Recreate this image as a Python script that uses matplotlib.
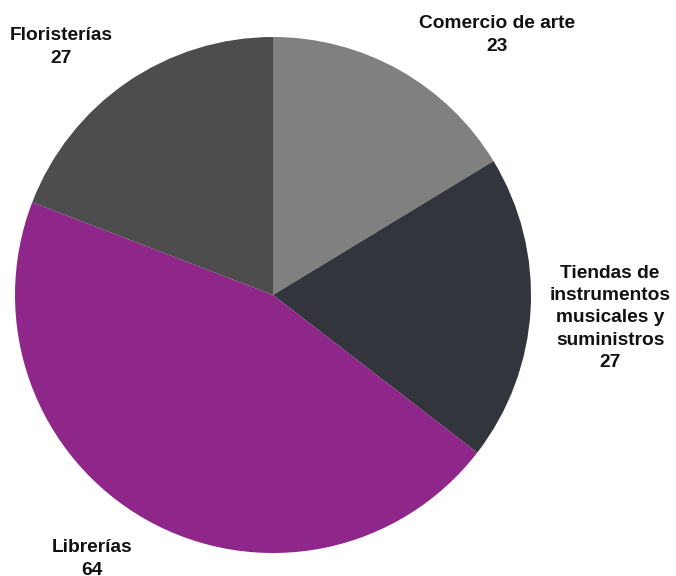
import matplotlib
matplotlib.use("Agg")
import matplotlib.pyplot as plt

categories = ["Comercio de arte", "Tiendas de\ninstrumentos\nmusicales y\nsuministros", "Librerías", "Floristerías"]
values = [23, 27, 64, 27]
colors = ["#808080", "#32353b", "#8e2789", "#4d4d4d"]

W, H = 676, 576
fig = plt.figure(figsize=(W / 100, H / 100), dpi=100)
ax = fig.add_axes([0, 0, 1, 1])

cx, cy, r = 273, H - 295, 258
ax.pie(values, colors=colors, startangle=90, counterclock=False,
       center=(cx, cy), radius=r, frame=True,
       wedgeprops=dict(linewidth=0))
ax.set_xlim(0, W)
ax.set_ylim(0, H)
ax.set_aspect("equal")
ax.axis("off")

# label positions (pixels, image coords)
label_pos = [(497, 35), (610, 318), (92, 559), (61, 47)]
for cat, v, (lx, ly) in zip(categories, values, label_pos):
    ax.text(lx, H - ly, f"{cat}\n{v}", ha="center", va="center",
            fontsize=13.8, fontweight="bold", family="Liberation Sans",
            linespacing=1.4, color="#111111")

fig.savefig("out.png", dpi=100)
